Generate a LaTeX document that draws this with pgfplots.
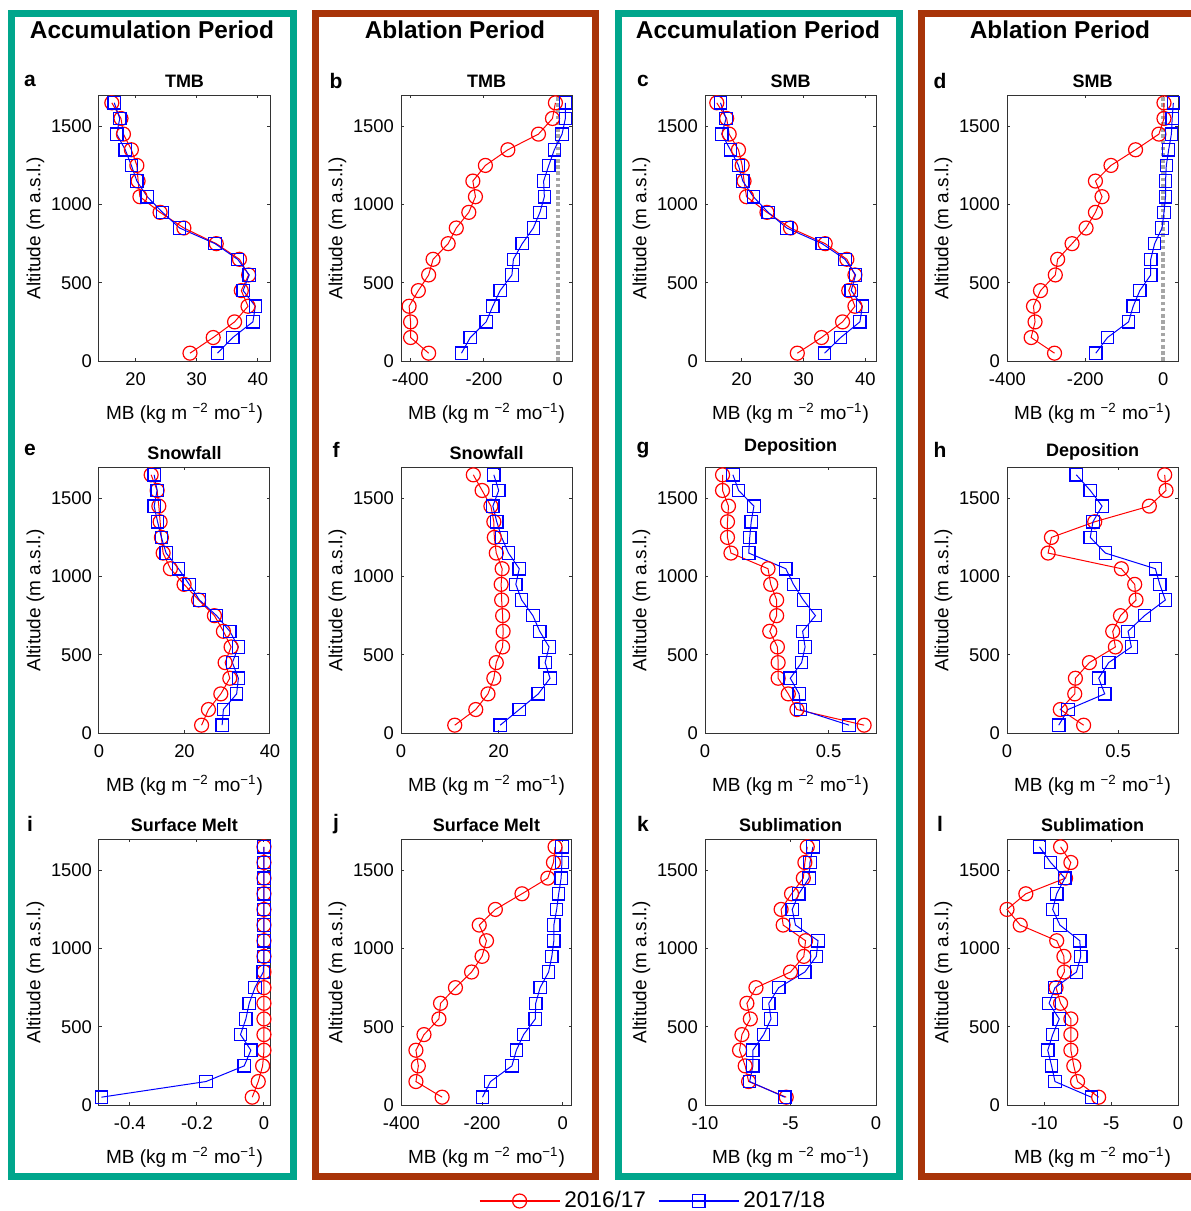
\documentclass[border=0pt]{standalone}
\usepackage{pgfplots}
\pgfplotsset{compat=1.18}
\usepackage{pgfplotstable}
\usepackage{fontspec}
\setmainfont{Liberation Sans}
\definecolor{accteal}{RGB}{0,166,140}
\definecolor{ablbrown}{RGB}{168,52,8}

\pgfplotstableread{
alt r b
50 28.9 33.4
150 32.7 35.9
250 36.2 39.2
350 38.4 39.6
450 37.3 37.6
550 38.5 38.6
650 37.0 36.7
750 33.2 33.0
850 27.9 27.2
950 24.0 24.4
1050 20.7 21.9
1150 20.4 20.2
1250 20.2 19.3
1350 19.3 18.3
1450 18.0 16.9
1550 17.6 17.4
1650 16.1 16.5
}\tabA
\pgfplotstableread{
alt r b
50 -350 -261
150 -399 -237
250 -399 -194
350 -403 -176
450 -378 -156
550 -350 -124
650 -338 -120
750 -297 -96
850 -275 -66
950 -241 -48
1050 -223 -36
1150 -230 -38
1250 -196 -24
1350 -135 -9
1450 -52 12
1550 -14 21
1650 -6 21
}\tabB
\pgfplotstableread{
alt r b
50 29.0 33.4
150 32.9 36.0
250 36.3 39.1
350 38.3 39.5
450 37.3 37.7
550 38.3 38.4
650 37.0 36.7
750 33.5 33.0
850 27.9 27.3
950 24.1 24.3
1050 20.8 21.9
1150 20.4 20.2
1250 20.1 19.5
1350 19.5 18.2
1450 18.0 16.8
1550 17.6 17.5
1650 16.0 16.6
}\tabC
\pgfplotstableread{
alt r b
50 -279 -173
150 -339 -143
250 -329 -89
350 -333 -77
450 -315 -60
550 -277 -32
650 -271 -32
750 -234 -22
850 -198 -3
950 -174 2
1050 -157 6
1150 -174 6
1250 -134 8
1350 -71 14
1450 -11 21
1550 2 23
1650 2 26
}\tabD
\pgfplotstableread{
alt r b
50 24.0 28.8
150 25.6 29.1
250 28.5 32.2
350 30.6 32.6
450 29.5 31.2
550 30.9 32.6
650 29.1 30.6
750 27.0 27.5
850 23.3 23.5
950 19.9 21.1
1050 16.7 18.6
1150 15.0 15.7
1250 14.6 14.6
1350 14.3 13.7
1450 14.0 12.9
1550 13.6 13.6
1650 12.2 12.9
}\tabE
\pgfplotstableread{
alt r b
50 11.0 20.3
150 15.3 24.2
250 17.8 28.1
350 19.0 30.5
450 19.5 29.5
550 20.8 30.3
650 20.9 28.4
750 20.8 27.0
850 20.6 24.7
950 20.5 23.5
1050 20.7 24.2
1150 19.5 22.0
1250 19.1 20.6
1350 19.0 19.6
1450 18.4 18.8
1550 16.6 20.0
1650 14.8 19.0
}\tabF
\pgfplotstableread{
alt r b
50 0.644 0.583
150 0.372 0.386
250 0.337 0.381
350 0.296 0.345
450 0.296 0.391
550 0.293 0.405
650 0.262 0.395
750 0.290 0.447
850 0.290 0.398
950 0.266 0.358
1050 0.255 0.327
1150 0.105 0.177
1250 0.091 0.181
1350 0.091 0.187
1450 0.095 0.198
1550 0.071 0.136
1650 0.071 0.113
}\tabG
\pgfplotstableread{
alt r b
50 0.345 0.233
150 0.240 0.275
250 0.305 0.440
350 0.308 0.413
450 0.371 0.458
550 0.488 0.560
650 0.476 0.545
750 0.511 0.619
850 0.581 0.713
950 0.575 0.688
1050 0.515 0.668
1150 0.185 0.443
1250 0.200 0.375
1350 0.395 0.387
1450 0.641 0.428
1550 0.716 0.375
1650 0.710 0.312
}\tabH
\pgfplotstableread{
alt r b
50 -0.035 -0.485
150 -0.017 -0.173
250 -0.004 -0.059
350 0 -0.039
450 0 -0.070
550 0 -0.054
650 0 -0.044
750 0 -0.027
850 0 -0.002
950 0 0
1050 0 0
1150 0 0
1250 0 0
1350 0 0
1450 0 0
1550 0 0
1650 0 0
}\tabI
\pgfplotstableread{
alt r b
50 -299 -199
150 -364 -179
250 -358 -126
350 -364 -115
450 -344 -97
550 -307 -68
650 -303 -67
750 -266 -56
850 -226 -35
950 -200 -27
1050 -189 -22
1150 -207 -22
1250 -167 -15
1350 -101 -10
1450 -37 -4
1550 -23 -2
1650 -19 -2
}\tabJ
\pgfplotstableread{
alt r b
50 -5.25 -5.33
150 -7.45 -7.39
250 -7.65 -7.20
350 -7.98 -7.20
450 -7.84 -6.57
550 -7.35 -6.14
650 -7.55 -6.27
750 -7.02 -5.69
850 -5.00 -4.16
950 -4.22 -3.49
1050 -4.12 -3.39
1150 -5.43 -4.71
1250 -5.55 -4.90
1350 -4.94 -4.51
1450 -4.25 -3.92
1550 -4.16 -3.86
1650 -4.02 -3.69
}\tabK
\pgfplotstableread{
alt r b
50 -5.94 -6.49
150 -7.52 -9.21
250 -7.80 -9.46
350 -8.02 -9.75
450 -8.02 -9.38
550 -8.02 -8.89
650 -8.79 -9.65
750 -9.13 -9.21
850 -8.51 -7.60
950 -8.54 -7.28
1050 -9.08 -7.35
1150 -11.81 -8.84
1250 -12.80 -9.38
1350 -11.39 -9.08
1450 -8.42 -8.47
1550 -8.02 -9.53
1650 -8.79 -10.37
}\tabL

\pgfplotsset{
  panel/.style={
    scale only axis, width=85.5pt, height=133pt, anchor=north west,
    ymin=0, ymax=1700, ytick={0,500,1000,1500}, yticklabels={0,500,1000,1500},
    scaled ticks=false, clip=false,
    axis line style={draw=black!80, line width=0.5pt},
    tick style={black!80, line width=0.5pt}, major tick length=1.6pt,
    tick label style={font=\fontsize{9.2}{10}\selectfont},
    xticklabel shift=2.5pt,
    label style={font=\fontsize{9.5}{11}\selectfont},
    xlabel shift=1.5pt, ylabel shift=-3.5pt,
    title style={font=\bfseries\fontsize{9}{10}\selectfont, yshift=-6pt},
    xlabel={MB (kg m \textsuperscript{−2} mo\textsuperscript{−1})},
    ylabel={Altitude (m a.s.l.)},
  },
  rser/.style={red, line width=0.5pt, mark=o, mark size=3.5pt, mark options={line width=0.6pt}},
  bser/.style={blue, line width=0.5pt, mark=square, mark size=3.1pt, mark options={line width=0.6pt}},
  zline/.style={black!35, line width=2pt, dash pattern=on 1.8pt off 1.3pt},
}

\newcommand{\panelplots}[1]{%
  \addplot[rser] table[x=r,y=alt]{#1};
  \addplot[bser] table[x=b,y=alt]{#1};
}

\begin{document}
\begin{tikzpicture}
\useasboundingbox (0,0) rectangle (595pt,-605.5pt);
% frames
\draw[accteal, line width=3.5pt] (5.75pt,-6.75pt) rectangle (146.75pt,-588.25pt);
\draw[ablbrown, line width=3.5pt] (157.75pt,-6.75pt) rectangle (297.75pt,-588.25pt);
\draw[accteal, line width=3.5pt] (309.25pt,-6.75pt) rectangle (449.75pt,-588.25pt);
\draw[ablbrown, line width=3.5pt] (460.75pt,-6.75pt) rectangle (601pt,-588.25pt);
% column titles
\node[font=\bfseries\fontsize{12.2}{14}\selectfont] at (76pt,-15pt) {Accumulation Period};
\node[font=\bfseries\fontsize{12.2}{14}\selectfont] at (227.5pt,-15pt) {Ablation Period};
\node[font=\bfseries\fontsize{12.2}{14}\selectfont] at (379pt,-15pt) {Accumulation Period};
\node[font=\bfseries\fontsize{12.2}{14}\selectfont] at (530pt,-15pt) {Ablation Period};
% panel letters
\foreach \L/\X/\Y in {a/15/40.5, b/168/40.5, c/321.5/40.5, d/470/40.5, e/15/225, f/168/225, g/321.5/225, h/470/225, i/15/412, j/168/412, k/321.5/412, l/470/412}
  \node[font=\bfseries\fontsize{10.5}{12}\selectfont] at (\X pt,-\Y pt) {\L};

% row 1
\begin{axis}[panel, at={(49.5pt,-47.5pt)}, xmin=14, xmax=42, xtick={20,30,40}, xticklabels={20,30,40}, title={TMB}]
\panelplots{\tabA}
\end{axis}
\begin{axis}[panel, at={(200.5pt,-47.5pt)}, xmin=-425, xmax=39, xtick={-400,-200,0}, xticklabels={-400,-200,0}, title={TMB}]
\addplot[zline] coordinates {(0,0) (0,1700)};
\panelplots{\tabB}
\end{axis}
\begin{axis}[panel, at={(352.5pt,-47.5pt)}, xmin=14.1, xmax=41.7, xtick={20,30,40}, xticklabels={20,30,40}, title={SMB}]
\panelplots{\tabC}
\end{axis}
\begin{axis}[panel, at={(503.5pt,-47.5pt)}, xmin=-401, xmax=38, xtick={-400,-200,0}, xticklabels={-400,-200,0}, title={SMB}]
\addplot[zline] coordinates {(0,0) (0,1700)};
\panelplots{\tabD}
\end{axis}
% row 2
\begin{axis}[panel, at={(49.5pt,-233.5pt)}, xmin=0, xmax=40, xtick={0,20,40}, xticklabels={0,20,40}, title={Snowfall}]
\panelplots{\tabE}
\end{axis}
\begin{axis}[panel, at={(200.5pt,-233.5pt)}, xmin=0, xmax=35, xtick={0,20}, xticklabels={0,20}, title={Snowfall}]
\panelplots{\tabF}
\end{axis}
\begin{axis}[panel, at={(352.5pt,-233.5pt)}, xmin=0, xmax=0.692, xtick={0,0.5}, xticklabels={0,0.5}, title={Deposition}, title style={yshift=2.5pt}]
\panelplots{\tabG}
\end{axis}
\begin{axis}[panel, at={(503.5pt,-233.5pt)}, xmin=0, xmax=0.77, xtick={0,0.5}, xticklabels={0,0.5}, title={Deposition}]
\panelplots{\tabH}
\end{axis}
% row 3
\begin{axis}[panel, at={(49.5pt,-419.5pt)}, xmin=-0.492, xmax=0.018, xtick={-0.4,-0.2,0}, xticklabels={-0.4,-0.2,0}, title={Surface Melt}]
\panelplots{\tabI}
\end{axis}
\begin{axis}[panel, at={(200.5pt,-419.5pt)}, xmin=-401, xmax=23, xtick={-400,-200,0}, xticklabels={-400,-200,0}, title={Surface Melt}]
\panelplots{\tabJ}
\end{axis}
\begin{axis}[panel, at={(352.5pt,-419.5pt)}, xmin=-10, xmax=0, xtick={-10,-5,0}, xticklabels={-10,-5,0}, title={Sublimation}]
\panelplots{\tabK}
\end{axis}
\begin{axis}[panel, at={(503.5pt,-419.5pt)}, xmin=-12.8, xmax=0, xtick={-10,-5,0}, xticklabels={-10,-5,0}, title={Sublimation}]
\panelplots{\tabL}
\end{axis}
% legend
\begin{axis}[at={(327pt,-600.5pt)}, anchor=center, hide axis, scale only axis, width=2pt, height=2pt,
  xmin=0, xmax=1, ymin=0, ymax=1,
  legend columns=2,
  legend style={at={(0.5,0.5)}, anchor=center, draw=none, fill=none, font=\fontsize{11.3}{12}\selectfont,
    /tikz/every even column/.append style={column sep=4pt}},
  legend image code/.code={\draw[mark repeat=2,mark phase=2,#1] plot coordinates {(0pt,0pt) (20pt,0pt) (40pt,0pt)};}]
\addlegendimage{red, line width=0.7pt, mark=o, mark size=3.5pt, mark options={red, line width=0.6pt}}
\addlegendentry{2016/17}
\addlegendimage{blue, line width=0.7pt, mark=square, mark size=3.1pt, mark options={blue, line width=0.6pt}}
\addlegendentry{2017/18}
\end{axis}
\end{tikzpicture}
\end{document}
